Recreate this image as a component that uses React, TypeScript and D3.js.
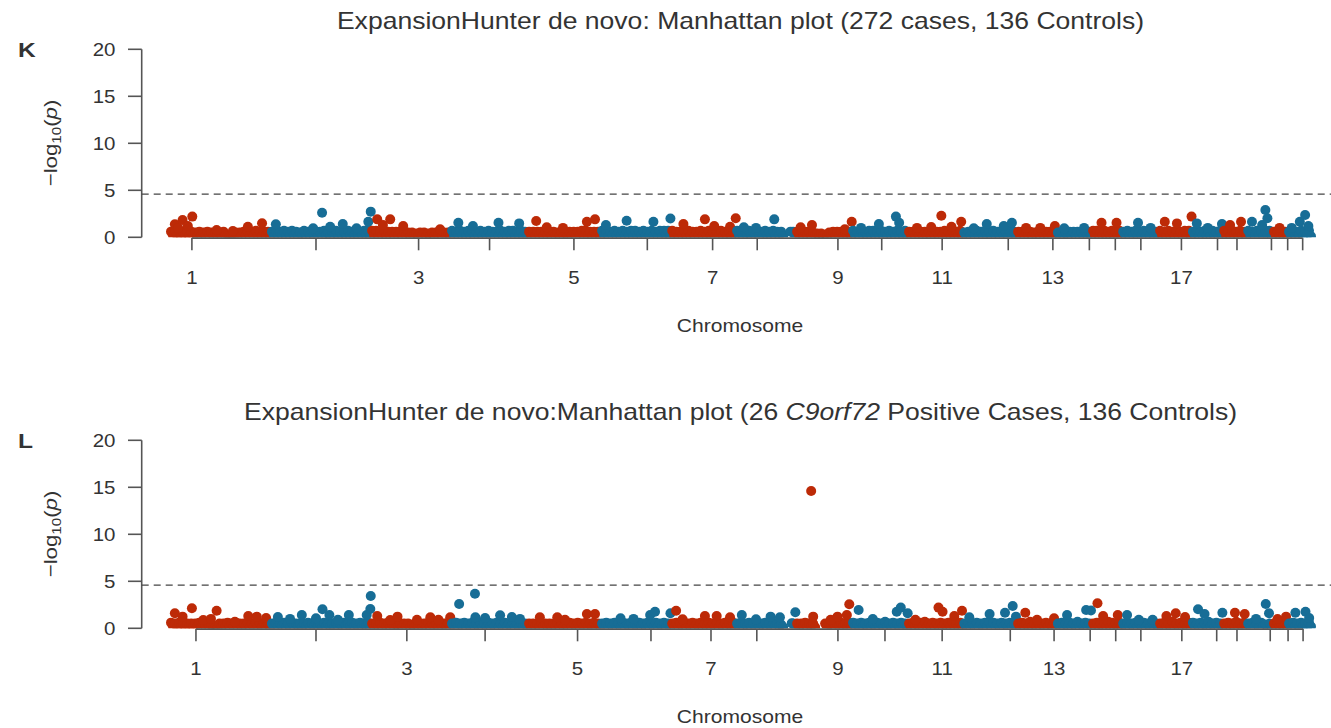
import React from "react";
import * as d3 from "d3";

// ---- data -------------------------------------------------------------
const chromosomes = d3.range(1, 23).map(String);
// plotted span of each chromosome along the genome axis (Mb)
const chrSpanMb = [249, 247, 197, 190, 180, 173, 160, 148, 138, 138, 136, 133, 98, 87, 74, 91, 81, 77, 59, 64, 37, 59];
const chrLabelShown = ["1", "3", "5", "7", "9", "11", "13", "17"];
const yTicks = [0, 5, 10, 15, 20];
const threshold = 4.6;

// chromosome tick positions (cumulative Mb) per panel
const tickPosK = [54, 360, 613, 788, 996, 1177, 1338, 1448, 1647, 1755, 1904, 2067, 2177, 2267, 2331, 2394, 2494, 2583, 2631, 2716, 2756, 2793];
const tickPosL = [64, 360, 584, 777, 1005, 1186, 1334, 1447, 1647, 1763, 1904, 2072, 2180, 2269, 2332, 2394, 2495, 2581, 2631, 2713, 2757, 2794];

// dense background of low -log10(p) values, one string per chromosome,
// loci evenly spread along the chromosome, each digit a value in tenths,
// "-" marks a stretch with no loci
const bandK = [
  "62727162616251625162515251621000515262616272616261",
  "61726271627261527162716261725162716261726271627271",
  "7271627162616261625152415251425152615251",
  "71627261727162716272616271627271627162",
  "626162616261625162516261627172616261",
  "7271627261726271726271627261717271",
  "72616271726162716272616271626162",
  "726172716271627261716261----61",
  "6271626152414231526162616261",
  "7261726172716271627261726172",
  "6261626162616261627162716271",
  "51626172617261726172617261",
  "62616261526162616261",
  "516251626162617261",
  "7271627162716271",
  "627162716271627162",
  "7261726172617271",
  "6271627162716271",
  "726172617261",
  "726172617271",
  "62616261",
  "627162716271",
];
const bandL = [
  "62516251525152615261301051526152625152615262516251",
  "51625261516252515261526251625251625261526251625261",
  "5152615261514251525141525152615251625162",
  "51625261516252615162526151625261516252",
  "515251625251526152516252615262516252",
  "5162526151625261516252615162526151",
  "51625261516252615162526151625261",
  "516252615162526151625241----51",
  "5152615251----51526152625162",
  "6251625162516251725162516251",
  "5162516272516251625162715162",
  "51625162516271625162516251",
  "51625172516251625162",
  "516251625172516251",
  "5162516271625162",
  "516251625162516251",
  "5162517251625162",
  "6251625172516251",
  "516251725162",
  "516251624151",
  "51625162",
  "516251625162",
];

// individual loci above the background: [chromosome, position in chromosome (Mb), -log10(p)]
type Locus = [number, number, number];
const peaksK: Locus[] = [
  [1, 12, 1.38], [1, 20, 1.0], [1, 31, 1.84], [1, 44, 1.2], [1, 55, 2.2], [1, 115, 0.78], [1, 155, 0.67], [1, 192, 1.13], [1, 227, 1.5],
  [2, 12, 1.38], [2, 104, 0.95], [2, 126, 2.62], [2, 146, 1.13], [2, 177, 1.41], [2, 211, 0.96], [2, 240, 1.66], [2, 246, 2.73],
  [3, 15, 1.91], [3, 29, 1.3], [3, 47, 1.91], [3, 79, 1.2], [3, 170, 0.85],
  [4, 18, 1.55], [4, 54, 1.2], [4, 117, 1.55], [4, 168, 1.48],
  [5, 20, 1.73], [5, 46, 1.06], [5, 86, 1.0], [5, 145, 1.66], [5, 165, 1.91],
  [6, 12, 1.3], [6, 63, 1.77], [6, 129, 1.66], [6, 171, 2.0],
  [7, 30, 1.41], [7, 83, 1.91], [7, 106, 1.2], [7, 145, 1.13], [7, 159, 2.02],
  [8, 19, 1.06], [8, 49, 1.0], [8, 94, 1.91], [8, 134, 0.6],
  [9, 11, 1.06], [9, 39, 1.3], [9, 120, 0.85], [9, 137, 1.66],
  [10, 22, 1.0], [10, 66, 1.41], [10, 108, 2.2], [10, 116, 1.55],
  [11, 22, 1.0], [11, 57, 1.1], [11, 82, 2.3], [11, 107, 1.13], [11, 131, 1.66],
  [12, 26, 0.95], [12, 58, 1.41], [12, 100, 1.2], [12, 120, 1.55],
  [13, 22, 1.0], [13, 57, 1.0], [13, 93, 1.2],
  [14, 18, 0.95], [14, 67, 1.0],
  [15, 23, 1.55], [15, 60, 1.55],
  [16, 39, 1.55], [16, 70, 1.0],
  [17, 14, 1.66], [17, 44, 1.48], [17, 80, 2.2],
  [18, 12, 1.48], [18, 39, 1.0], [18, 74, 1.41],
  [19, 17, 1.3], [19, 44, 1.66],
  [20, 12, 1.66], [20, 37, 1.3], [20, 45, 2.9], [20, 50, 2.02],
  [21, 16, 1.0],
  [22, 9, 1.0], [22, 29, 1.66], [22, 42, 2.37], [22, 50, 1.2],
];
const peaksL: Locus[] = [
  [1, 12, 1.6], [1, 31, 1.24], [1, 54, 2.13], [1, 82, 0.88], [1, 101, 1.0], [1, 115, 1.87], [1, 160, 0.7], [1, 193, 1.31], [1, 214, 1.24], [1, 237, 1.1],
  [2, 17, 1.2], [2, 47, 1.0], [2, 76, 1.41], [2, 111, 1.06], [2, 127, 2.02], [2, 144, 1.41], [2, 165, 0.9], [2, 192, 1.41], [2, 236, 1.41], [2, 245, 2.05], [2, 246, 3.43],
  [3, 15, 1.31], [3, 47, 0.88], [3, 65, 1.24], [3, 113, 0.9], [3, 146, 1.17], [3, 166, 0.9], [3, 195, 1.17],
  [4, 20, 2.59], [4, 59, 3.68], [4, 60, 1.17], [4, 84, 1.1], [4, 121, 1.38], [4, 150, 1.2], [4, 170, 1.0],
  [5, 29, 1.17], [5, 72, 1.17], [5, 91, 0.9], [5, 145, 1.52], [5, 165, 1.52],
  [6, 48, 1.06], [6, 80, 1.0], [6, 121, 1.41], [6, 133, 1.77], [6, 171, 1.6],
  [7, 12, 1.87], [7, 28, 0.95], [7, 83, 1.31], [7, 112, 1.31], [7, 145, 1.17],
  [8, 14, 1.41], [8, 49, 0.95], [8, 85, 1.24], [8, 108, 1.17], [8, 137, 0.53], [8, 146, 1.7],
  [9, 37, 14.6], [9, 42, 1.24], [9, 85, 0.9], [9, 102, 1.24], [9, 125, 1.41], [9, 131, 2.55],
  [10, 16, 1.95], [10, 51, 0.98], [10, 110, 1.77], [10, 120, 2.2], [10, 137, 1.6],
  [11, 18, 0.9], [11, 75, 2.2], [11, 85, 1.77], [11, 114, 1.31], [11, 133, 1.87],
  [12, 15, 1.17], [12, 65, 1.52], [12, 103, 1.66], [12, 122, 2.37], [12, 130, 1.24],
  [13, 20, 1.66], [13, 49, 0.9], [13, 91, 1.06],
  [14, 25, 1.41], [14, 72, 1.95], [14, 84, 1.9],
  [15, 13, 2.66], [15, 27, 1.31], [15, 63, 1.41],
  [16, 12, 1.41], [16, 41, 0.9], [16, 75, 0.9],
  [17, 18, 1.31], [17, 41, 1.6], [17, 64, 1.2],
  [18, 15, 2.02], [18, 31, 1.52], [18, 75, 1.66],
  [19, 29, 1.66], [19, 53, 1.52],
  [20, 22, 1.0], [20, 46, 2.59], [20, 54, 1.6],
  [21, 11, 0.98], [21, 32, 1.24],
  [22, 18, 1.66], [22, 43, 1.77], [22, 52, 1.1],
];

// ---- layout & style ------------------------------------------------------
const W = 1331;
const H = 728;
const PANEL_SHIFT = 391;
const RED = "#BD2A07";
const BLUE = "#176D96";
const AXIS = "#555555";
const TEXT = "#333333";
const FONT = "'Liberation Sans', Arial, Helvetica, sans-serif";
const STRETCH = 1.17; // glyphs are drawn a little wide
const R = 5;

const chrStart = chromosomes.map((_, i) => d3.sum(chrSpanMb.slice(0, i)));
const totalMb = d3.sum(chrSpanMb);

const x = d3.scaleLinear().domain([0, totalMb]).range([170, 1312]);
const y = d3.scaleLinear().domain([0, 20]).range([237.3, 49.3]);
const AXIS_X = 141.7;

type Pt = { chr: number; pos: number; v: number };

function buildPoints(band: string[], peaks: Locus[]): Pt[] {
  const pts: Pt[] = [];
  chromosomes.forEach((_, i) => {
    const s = band[i];
    const n = s.length;
    for (let j = 0; j < n; j++) {
      if (s[j] === "-") continue;
      pts.push({ chr: i + 1, pos: chrStart[i] + ((j + 0.5) * chrSpanMb[i]) / n, v: +s[j] / 10 });
    }
    peaks
      .filter((p) => p[0] === i + 1)
      .forEach((p) => pts.push({ chr: i + 1, pos: chrStart[i] + p[1], v: p[2] }));
  });
  return pts;
}

function WideText(props: {
  x: number;
  y: number;
  size: number;
  anchor?: "start" | "middle" | "end";
  weight?: string | number;
  rotate?: number;
  stretch?: number;
  children: React.ReactNode;
}) {
  const { x: tx, y: ty, size, anchor = "middle", weight = "normal", rotate = 0, stretch = STRETCH, children } = props;
  return (
    <text
      transform={`translate(${tx},${ty}) rotate(${rotate}) scale(${stretch},1)`}
      textAnchor={anchor}
      fontSize={size}
      fontWeight={weight}
      fontFamily={FONT}
      fill={TEXT}
    >
      {children}
    </text>
  );
}

function Panel(props: {
  id: string;
  letter: string;
  title: React.ReactNode;
  band: string[];
  peaks: Locus[];
  ticks: number[];
  shift: number;
}) {
  const { id, letter, title, band, peaks, ticks, shift } = props;
  const pts = buildPoints(band, peaks);
  const y0 = y(0);
  return (
    <g transform={`translate(0,${shift})`}>
      <defs>
        <clipPath id={`clip-${id}`}>
          <rect x={0} y={0} width={W} height={y0} />
        </clipPath>
      </defs>

      {/* panel letter and title */}
      <WideText x={18} y={57} size={21} anchor="start" weight="bold">
        {letter}
      </WideText>
      <WideText x={740.5} y={29} size={23} stretch={1.155}>
        {title}
      </WideText>

      {/* y axis */}
      <line x1={AXIS_X} x2={AXIS_X} y1={y(0)} y2={y(20)} stroke={AXIS} strokeWidth={1.6} />
      {yTicks.map((t) => (
        <g key={t}>
          <line x1={128} x2={AXIS_X} y1={y(t)} y2={y(t)} stroke={AXIS} strokeWidth={1.6} />
          <WideText x={115.5} y={y(t) + 6.3} size={17.5} anchor="end">
            {t}
          </WideText>
        </g>
      ))}
      <WideText x={57} y={143} size={19} rotate={-90}>
        <tspan>−log</tspan>
        <tspan fontSize={13} dy={4}>
          10
        </tspan>
        <tspan dy={-4}>(</tspan>
        <tspan fontStyle="italic">p</tspan>
        <tspan>)</tspan>
      </WideText>

      {/* genome-wide significance line */}
      <line
        x1={AXIS_X}
        x2={W}
        y1={y(threshold)}
        y2={y(threshold)}
        stroke="#444"
        strokeWidth={1.3}
        strokeDasharray="7,5"
      />

      {/* loci */}
      <g clipPath={`url(#clip-${id})`}>
        {pts.map((p, i) => (
          <circle key={i} cx={x(p.pos)} cy={y(p.v)} r={R} fill={p.chr % 2 === 1 ? RED : BLUE} />
        ))}
      </g>

      {/* x axis */}
      <line
        x1={x(ticks[0])}
        x2={x(ticks[ticks.length - 1])}
        y1={y0 + 0.8}
        y2={y0 + 0.8}
        stroke={AXIS}
        strokeWidth={1.6}
      />
      {ticks.map((t, i) => (
        <g key={i}>
          <line x1={x(t)} x2={x(t)} y1={y0 + 0.8} y2={y0 + 13} stroke={AXIS} strokeWidth={1.6} />
          {chrLabelShown.includes(chromosomes[i]) && (
            <WideText x={x(t)} y={283.5} size={17.5}>
              {chromosomes[i]}
            </WideText>
          )}
        </g>
      ))}
      <WideText x={740} y={332} size={18}>
        Chromosome
      </WideText>
    </g>
  );
}

export default function App() {
  return (
    <svg
      width={W}
      height={H}
      viewBox={`0 0 ${W} ${H}`}
      style={{ position: "absolute", left: 0, top: 0, background: "#fff" }}
    >
      <rect x={0} y={0} width={W} height={H} fill="#fff" />
      <Panel
        id="k"
        letter="K"
        title="ExpansionHunter de novo: Manhattan plot (272 cases, 136 Controls)"
        band={bandK}
        peaks={peaksK}
        ticks={tickPosK}
        shift={0}
      />
      <Panel
        id="l"
        letter="L"
        title={
          <>
            <tspan>ExpansionHunter de novo:Manhattan plot (26 </tspan>
            <tspan fontStyle="italic">C9orf72</tspan>
            <tspan> Positive Cases, 136 Controls)</tspan>
          </>
        }
        band={bandL}
        peaks={peaksL}
        ticks={tickPosL}
        shift={PANEL_SHIFT}
      />
    </svg>
  );
}
